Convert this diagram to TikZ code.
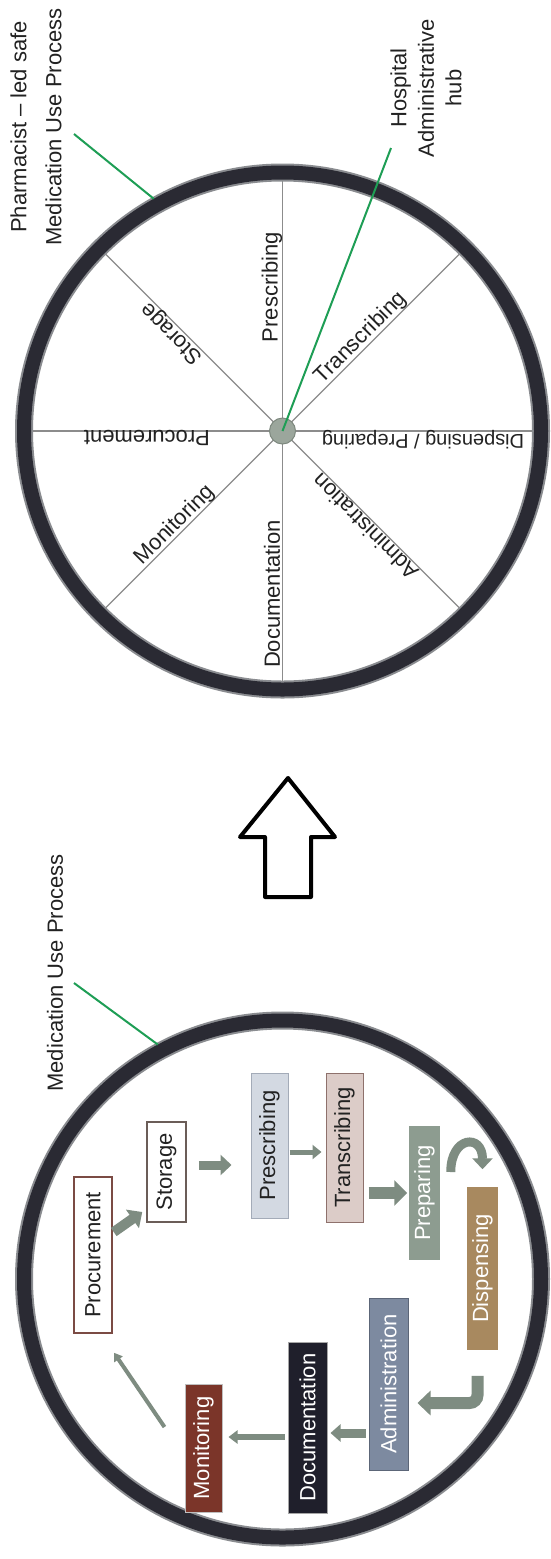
\documentclass[tikz,border=0pt]{standalone}
\usepackage{fontspec}
\usepackage{graphicx}
\setmainfont{Liberation Sans}
\usetikzlibrary{arrows.meta,calc}
\definecolor{ringc}{HTML}{2A2A33}
\definecolor{ringg}{HTML}{8A8C90}
\definecolor{spokec}{HTML}{8C8C8C}
\definecolor{hubc}{HTML}{9BA69C}
\definecolor{hubd}{HTML}{7D887E}
\definecolor{greenc}{HTML}{1E9E55}
\definecolor{arrc}{HTML}{7E8C81}
\definecolor{procb}{HTML}{7B4B44}
\definecolor{storb}{HTML}{6B5D58}
\definecolor{prescf}{HTML}{D3D9E2}
\definecolor{prescb}{HTML}{A3ABB8}
\definecolor{transf}{HTML}{DCCCC8}
\definecolor{transb}{HTML}{8E716C}
\definecolor{prepf}{HTML}{8D9C90}
\definecolor{dispf}{HTML}{A8895F}
\definecolor{adminf}{HTML}{7D8AA0}
\definecolor{adminb}{HTML}{5C6678}
\definecolor{docf}{HTML}{1F1F2B}
\definecolor{monf}{HTML}{7B3529}
\definecolor{txtc}{HTML}{222222}
\begin{document}
\begin{tikzpicture}[x=1pt,y=1pt,
  every node/.style={font=\fontsize{22}{26}\selectfont, text=txtc, inner sep=0pt},
  ring/.style={circle, minimum size=517pt, draw=ringc, line width=14pt,
    preaction={draw=ringg, line width=18pt}},
  spoke/.style={draw=spokec, line width=1.2pt},
  greenline/.style={draw=greenc, line width=2pt},
  hubnode/.style={circle, minimum size=26pt, fill=hubc, draw=hubd, line width=1pt},
  box/.style n args={2}{minimum width=#1pt, minimum height=#2pt, line width=1.5pt},
  shbox/.style={box={#1}, preaction={draw=black!25, line width=3pt}},
  fat/.style n args={3}{draw=arrc, line width=#1pt, -{Triangle[width=#2pt,length=#3pt]}},
  bigarrow/.style={draw=black, line width=4pt, fill=white, line join=round}
]
\useasboundingbox[fill=white] (0,0) rectangle (550,-1559);

% ---------------- top wheel ----------------
\coordinate (cA) at (282.5,-431);
\foreach \a in {0,45,...,315} \draw[spoke] (cA) -- ++(\a:251);
\node[ring] (ringA) at (cA) {};
\node[hubnode] (hub) at (cA) {};

\node[rotate=90, align=center, font=\fontsize{22}{35}\selectfont] (pharm) at (36,-127)
  {Pharmacist -- led safe\\Medication Use Process};
\coordinate (pharmEnd) at (74,-134);
\draw[greenline] (pharmEnd) -- (ringA.119);

\node[rotate=90, align=center, font=\fontsize{22}{27.5}\selectfont] (hosp) at (426,-88)
  {Hospital\\Administrative\\hub};
\coordinate (hospEnd) at (391,-148);
\draw[greenline] (hub.center) -- (hospEnd);

\node[rotate=90]  (lPresc) at (272,-287) {Prescribing};
\node[rotate=135] (lStor)  at (172,-333) {Storage};
\node[rotate=45]  (lTrans) at (361,-338) {Transcribing};
\node[rotate=180] (lProc)  at (147,-438) {Procurement};
\node[rotate=180, font=\fontsize{20}{24}\selectfont] (lDisp) at (423,-440) {Dispensing / Preparing};
\node[rotate=45]  (lMon)   at (175,-525) {Monitoring};
\node[rotate=90]  (lDoc)   at (272,-594) {Documentation};
\node[rotate=135] (lAdm)   at (365,-527) {Administration};

% ---------------- middle arrow ----------------
\draw[bigarrow] (288,-778) -- (335,-837) -- (311,-837) -- (311,-897)
  -- (265,-897) -- (265,-837) -- (240,-837) -- cycle;

% ---------------- bottom wheel ----------------
\coordinate (cB) at (282.5,-1279);
\node[ring] (ringB) at (cB) {};
\node[rotate=90] (mup) at (55,-973) {Medication Use Process};
\coordinate (mupEnd) at (74,-983);
\draw[greenline] (mupEnd) -- (ringB.118.7);

\node[box={38}{156}, draw=procb, fill=white] (proc) at (93,-1255) {\rotatebox{90}{Procurement}};
\node[box={39}{100}, draw=storb, fill=white] (stor) at (166.5,-1172) {\rotatebox{90}{Storage}};
\node[box={37}{145}, draw=prescb, fill=prescf, line width=1pt] (presc) at (269.5,-1145.5) {\rotatebox{90}{Prescribing}};
\node[box={37}{149}, draw=transb, fill=transf, line width=1pt] (trans) at (344.5,-1147.5) {\rotatebox{90}{Transcribing}};
\node[box={31}{134}, fill=prepf, text=white] (prep) at (424.5,-1193) {\rotatebox{90}{Preparing}};
\node[box={31}{163}, fill=dispf, text=white] (disp) at (482.5,-1268.5) {\rotatebox{90}{Dispensing}};
\node[box={39}{172}, draw=adminb, fill=adminf, text=white, line width=1pt] (admin) at (388.5,-1384) {\rotatebox{90}{Administration}};
\node[box={39}{171}, draw=black!35, fill=docf, text=white, line width=1pt] (doc) at (307.5,-1427.5) {\rotatebox{90}{Documentation}};
\node[box={37}{128}, draw=black!25, fill=monf, text=white, line width=1pt] (mon) at (203.5,-1448) {\rotatebox{90}{Monitoring}};

\draw[fat={10}{22}{12}] ($(proc.east)+(1,23)$) -- ($(stor.west)+(-4,-40)$);
\draw[fat={9}{20}{11}] ($(stor.east)+(12,7)$) -- ($(presc.west)+(-19,-19.5)$);
\draw[fat={5}{14}{9}] ($(presc.east)+(1,-6.5)$) -- ($(trans.west)+(-4,-4.5)$);
\draw[fat={12}{25}{13}] ($(trans.east)+(5,-45.5)$) -- ($(prep.west)+(-1,0)$);
\draw[fat={9}{20}{11}] ($(prep.east)+(10,21)$) .. controls +(0,36) and +(0,36) .. ($(disp.north)+(0,17)$);
\draw[fat={12}{24}{13}, rounded corners=8pt] ($(disp.south)+(-5,-25)$) |- ($(admin.east)+(9,-19)$);
\draw[fat={9}{17}{10}] ($(admin.west)+(-3,-49)$) -- ($(doc.east)+(3,-5.5)$);
\draw[fat={6}{13}{9}] ($(doc.west)+(-3,-9.5)$) -- ($(mon.east)+(6,11)$);
\draw[fat={4}{10}{8}] ($(mon.west)+(-20,21)$) -- ($(proc.south)+(21,-19)$);
\end{tikzpicture}
\end{document}
